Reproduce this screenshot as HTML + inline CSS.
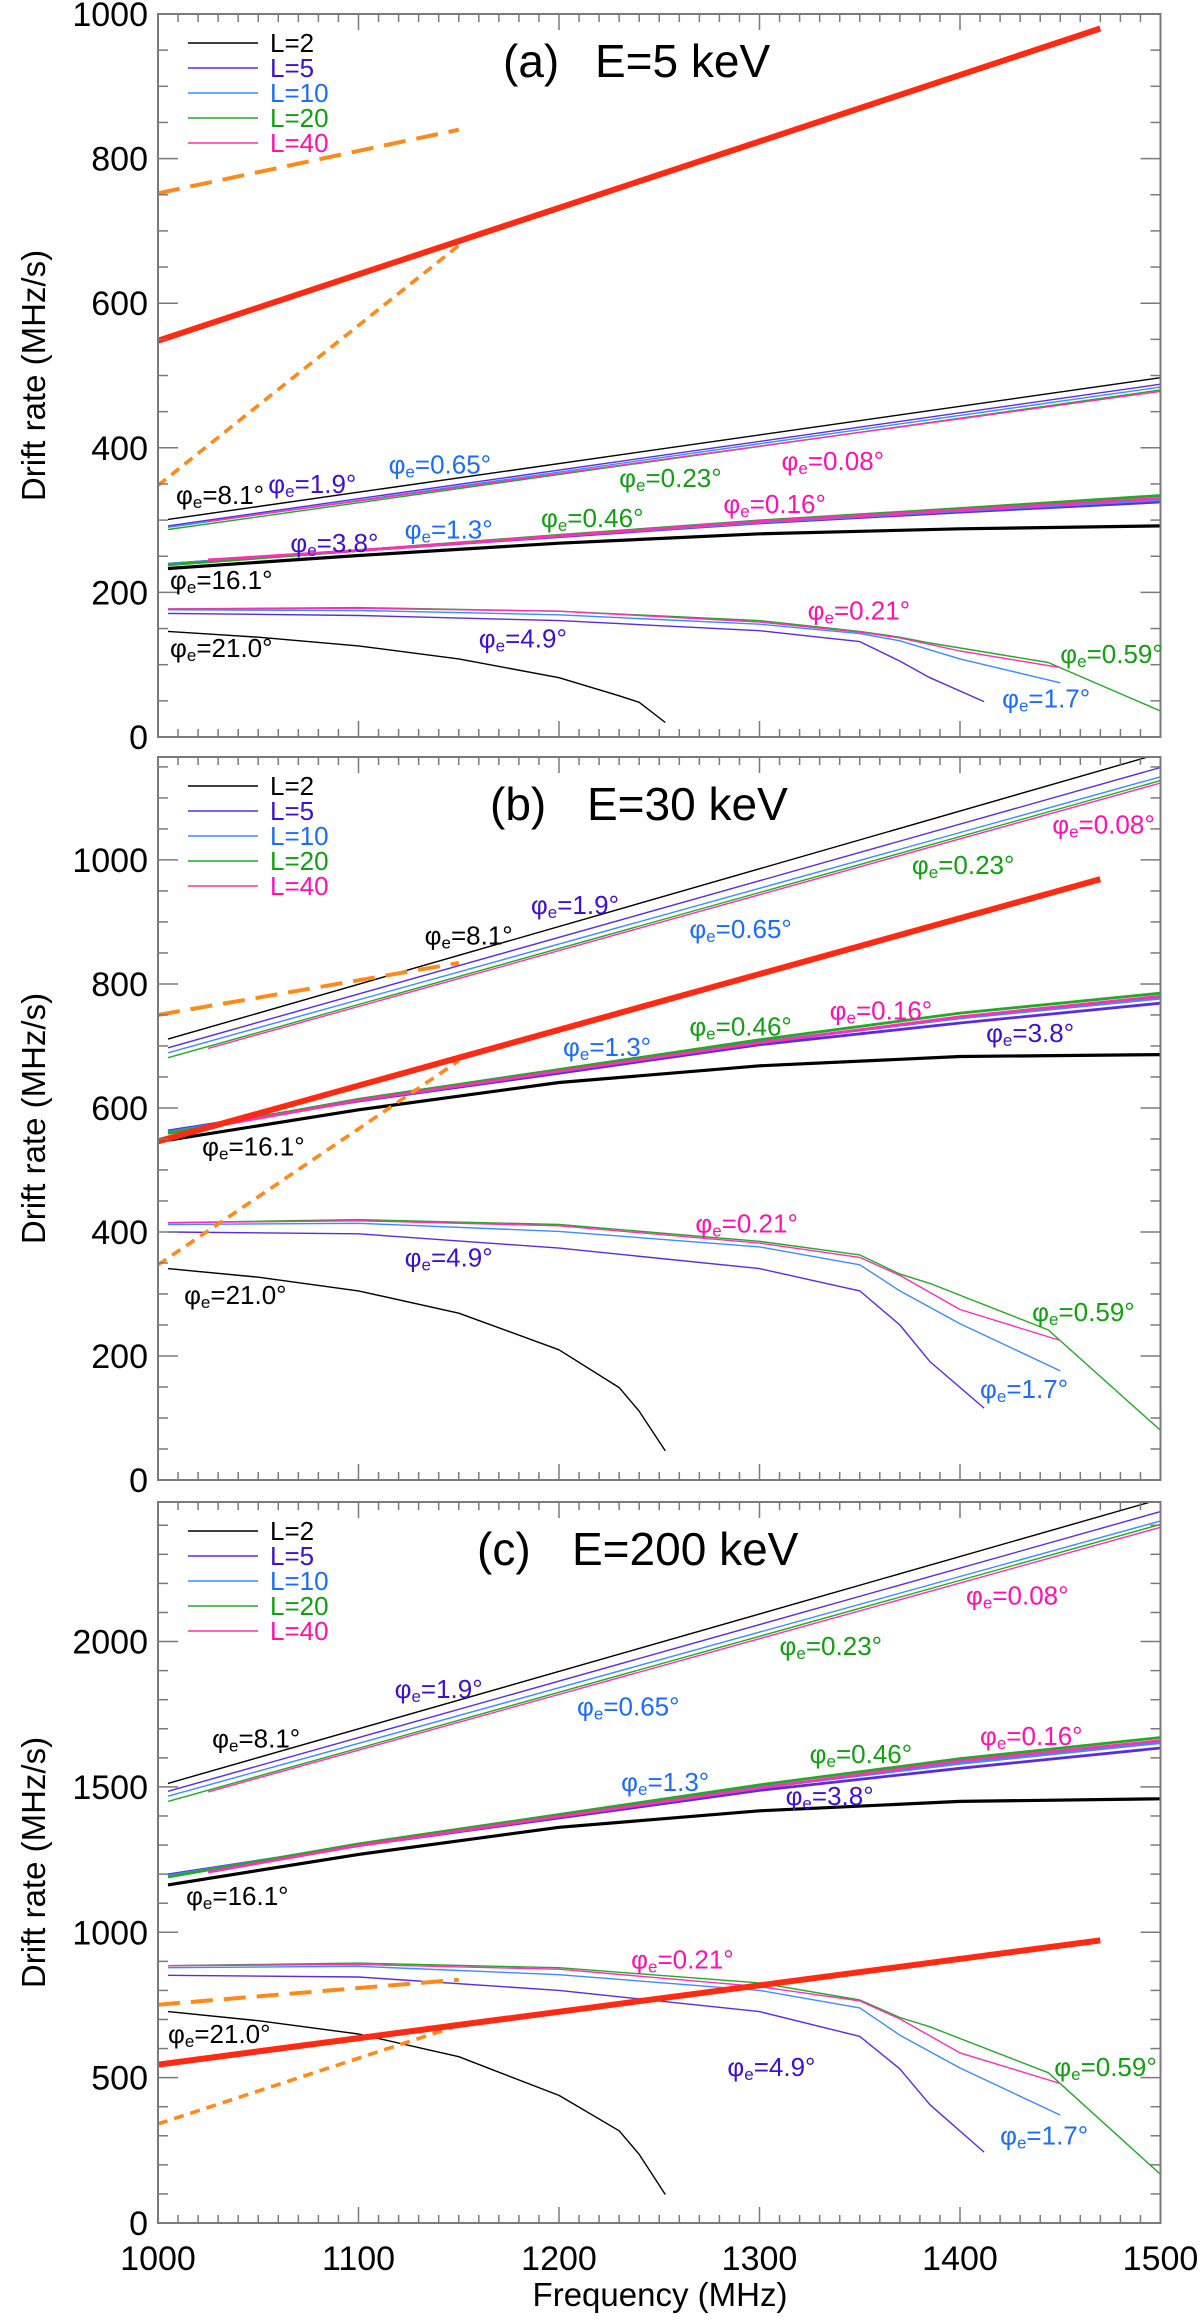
<!DOCTYPE html>
<html><head><meta charset="utf-8">
<style>
html,body{margin:0;padding:0;background:#fff;}
svg{display:block;font-family:"Liberation Sans",Arial,sans-serif;}
</style></head>
<body>
<svg id="chart" width="1200" height="2323" viewBox="0 0 1200 2323" xmlns="http://www.w3.org/2000/svg">
<defs>
<clipPath id="clipA"><rect x="158" y="14" width="1003" height="723"/></clipPath>
<clipPath id="clipB"><rect x="158" y="757" width="1003" height="723"/></clipPath>
<clipPath id="clipC"><rect x="158" y="1502" width="1003" height="721"/></clipPath>
</defs>
</svg>
<script>
// ---- shared frequency grids (MHz) ----
const topF = [1005, 1500];
const topF40 = [1025, 1500];
const midF = [1005, 1100, 1200, 1300, 1400, 1500];
const midF40 = [1025, 1100, 1200, 1300, 1400, 1500];
const botL2F = [1005, 1050, 1100, 1150, 1200, 1230, 1240, 1253];
const botL5F = [1005, 1100, 1200, 1300, 1350, 1370, 1385, 1412];
const botL10F = [1005, 1100, 1200, 1300, 1350, 1370, 1400, 1450];
const botL40F = [1005, 1100, 1200, 1300, 1350, 1370, 1400, 1450];
const botL20F = [1005, 1100, 1200, 1300, 1350, 1370, 1385, 1444, 1500];
const redF = [1000, 1470];
const orangeF = [1000, 1150];
const xTicks = [1000, 1100, 1200, 1300, 1400, 1500];

// ---- panel (a) E=5 keV ----
const aTopL2 = [301, 497], aTopL5 = [292, 488], aTopL10 = [290, 484], aTopL20 = [287, 480], aTopL40 = [298, 478];
const aMidL2 = [233, 251, 268, 281, 288, 292];
const aMidL5 = [239, 258, 277, 296, 311, 325];
const aMidL10 = [239, 258, 278, 297, 313, 328];
const aMidL20 = [238, 258, 279, 299, 316, 334];
const aMidL40 = [245, 258, 278, 298, 314, 330];
const aBotL2 = [146, 138, 126, 108, 82, 57, 48, 20];
const aBotL5 = [171, 168, 161, 147, 132, 105, 82, 49];
const aBotL10 = [176, 175, 169, 156, 143, 133, 108, 75];
const aBotL40 = [177, 178, 174, 159, 145, 137, 119, 96];
const aBotL20 = [177, 179, 174, 161, 146, 138, 130, 103, 36];
const aRed = [548, 980];
const aOrangeLong = [752, 840];
const aOrangeShort = [348, 680];
const aYTicks = [0, 200, 400, 600, 800, 1000];
const aLabels = [
 ["8.1", 0, 1009, 335], ["1.9", 1, 1055, 350], ["0.65", 2, 1115, 377], ["0.23", 3, 1230, 358], ["0.08", 4, 1311, 382],
 ["3.8", 1, 1066, 268], ["1.3", 2, 1123, 287], ["0.46", 3, 1191, 303], ["0.16", 4, 1282, 322],
 ["16.1", 0, 1006, 217], ["21.0", 0, 1006, 123], ["4.9", 1, 1160, 136], ["0.21", 4, 1324, 175],
 ["0.59", 3, 1450, 115], ["1.7", 2, 1421, 53]];

// ---- panel (b) E=30 keV ----
const bTopL2 = [711, 1172], bTopL5 = [697, 1149], bTopL10 = [689, 1134], bTopL20 = [681, 1128], bTopL40 = [696, 1124];
const bMidL2 = [548, 597, 641, 668, 683, 686];
const bMidL5 = [563, 611, 656, 702, 737, 769];
const bMidL10 = [561, 612, 659, 706, 745, 777];
const bMidL20 = [559, 614, 662, 710, 753, 785];
const bMidL40 = [569, 612, 659, 705, 747, 780];
const bBotL2 = [341, 327, 305, 269, 210, 149, 111, 47];
const bBotL5 = [400, 397, 374, 341, 305, 250, 191, 116];
const bBotL10 = [412, 414, 401, 376, 347, 305, 252, 176];
const bBotL40 = [415, 418, 410, 382, 359, 330, 275, 225];
const bBotL20 = [415, 420, 412, 385, 363, 332, 317, 242, 80];
const bRed = [546, 969];
const bOrangeLong = [750, 834];
const bOrangeShort = [347, 676];
const bYTicks = [0, 200, 400, 600, 800, 1000];
const bLabels = [
 ["8.1", 0, 1133, 878], ["1.9", 1, 1186, 927], ["0.65", 2, 1265, 889], ["0.23", 3, 1376, 992], ["0.08", 4, 1446, 1057],
 ["1.3", 2, 1202, 698], ["0.46", 3, 1265, 731], ["0.16", 4, 1335, 757], ["3.8", 1, 1413, 721],
 ["16.1", 0, 1022, 538], ["21.0", 0, 1013, 298], ["4.9", 1, 1123, 359], ["0.21", 4, 1268, 414],
 ["0.59", 3, 1436, 271], ["1.7", 2, 1410, 147]];

// ---- panel (c) E=200 keV ----
const cTopL2 = [1512, 2490], cTopL5 = [1485, 2447], cTopL10 = [1468, 2415], cTopL20 = [1450, 2403], cTopL40 = [1483, 2393];
const cMidL2 = [1163, 1268, 1361, 1418, 1450, 1459];
const cMidL5 = [1198, 1298, 1393, 1488, 1564, 1634];
const cMidL10 = [1194, 1301, 1399, 1498, 1581, 1652];
const cMidL20 = [1190, 1304, 1405, 1507, 1597, 1670];
const cMidL40 = [1207, 1298, 1398, 1496, 1589, 1659];
const cBotL2 = [727, 696, 650, 572, 439, 317, 236, 98];
const cBotL5 = [852, 846, 800, 727, 642, 530, 407, 244];
const cBotL10 = [878, 883, 854, 800, 740, 646, 533, 371];
const cBotL40 = [885, 889, 873, 813, 764, 702, 585, 480];
const cBotL20 = [885, 894, 878, 826, 767, 707, 675, 517, 167];
const cRed = [545, 972];
const cOrangeLong = [751, 837];
const cOrangeShort = [341, 680];
const cYTicks = [0, 500, 1000, 1500, 2000];
const cLabels = [
 ["8.1", 0, 1027, 1667], ["1.9", 1, 1118, 1837], ["0.65", 2, 1209, 1777], ["0.23", 3, 1310, 1984], ["0.08", 4, 1403, 2159],
 ["1.3", 2, 1231, 1517], ["0.46", 3, 1325, 1613], ["0.16", 4, 1410, 1675], ["3.8", 1, 1313, 1468],
 ["16.1", 0, 1014, 1125], ["21.0", 0, 1005, 650], ["4.9", 1, 1284, 537], ["0.21", 4, 1236, 907],
 ["0.59", 3, 1447, 537], ["1.7", 2, 1420, 301]];

const legendNames = ["L=2", "L=5", "L=10", "L=20", "L=40"];
const lineColors = ["#000000", "#5a2be0", "#3a8cff", "#22aa22", "#ff2eb8"];
const textColors = ["#000000", "#3c10d0", "#1a6cff", "#10a010", "#ff10b0"];

const NS = "http://www.w3.org/2000/svg";
const svg = document.getElementById("chart");
const X0 = 158, X1 = 1160.5;
function xScale(f) { return X0 + (f - 1000) / 500 * (X1 - X0); }
function mk(tag, attrs, parent) {
  const e = document.createElementNS(NS, tag);
  for (const k in attrs) e.setAttribute(k, attrs[k]);
  (parent || svg).appendChild(e);
  return e;
}
function poly(fs, vs, ys, g, stroke, w, dash, name) {
  const pts = fs.map((f, i) => xScale(f).toFixed(1) + "," + ys(vs[i]).toFixed(1)).join(" ");
  const p = mk("polyline", {points: pts, fill: "none", stroke: stroke, "stroke-width": w, "stroke-linejoin": "round"}, g);
  if (dash) p.setAttribute("stroke-dasharray", dash);
  
  
  return p;
}

function panel(id, top, bottom, ymax, minorStep, yTicks, d, labels, titleTag, titleE, titleX, eX, showX) {
  const ys = v => bottom - v / ymax * (bottom - top);
  const g = mk("g", {});
  
  
  const lines = mk("g", {"clip-path": "url(#clip" + id.toUpperCase() + ")"}, g);
  
  
  d.top.forEach((vs, i) => poly(i === 4 ? topF40 : topF, vs, ys, lines, lineColors[i], 1.4, null, 'upper-line-' + legendNames[i].toLowerCase().replace('=', '')));
  const botFs = [botL2F, botL5F, botL10F, botL20F, botL40F];
  d.bot.forEach((vs, i) => poly(botFs[i], vs, ys, lines, lineColors[i], 1.4, null, 'lower-curve-' + legendNames[i].toLowerCase().replace('=', '')));
  [1, 2, 3, 4, 0].forEach(i => poly(i === 4 ? midF40 : midF, d.mid[i], ys, lines, lineColors[i], i === 0 ? 3.2 : 2.8, null, 'middle-curve-' + legendNames[i].toLowerCase().replace('=', '')));
  poly(orangeF, d.ol, ys, lines, "#ff8a1a", 4, "22 11", 'orange-long-dash-line');
  poly(orangeF, d.os, ys, lines, "#ff8a1a", 3.6, "10 7", 'orange-short-dash-line');
  poly(redF, d.red, ys, lines, "#ff2a12", 6, null, 'red-thick-line');

  const fr = mk("rect", {x: X0, y: top, width: X1 - X0, height: bottom - top, fill: "none", stroke: "#7a7a7a", "stroke-width": 2}, g);
  
  
  for (let f = 1000; f <= 1500; f += 10) {
    const x = xScale(f), major = (f % 100 === 0), len = major ? 16 : 8;
    const t1 = mk("line", {x1: x, x2: x, y1: bottom, y2: bottom - len, stroke: "#7a7a7a", "stroke-width": 1.5}, g);
    
    
    const t2 = mk("line", {x1: x, x2: x, y1: top, y2: top + len, stroke: "#7a7a7a", "stroke-width": 1.5}, g);
    
    
  }
  for (let v = 0; v <= ymax; v += minorStep) {
    const y = ys(v), major = yTicks.indexOf(v) >= 0, len = major ? 20 : 10;
    const t1 = mk("line", {x1: X0, x2: X0 + len, y1: y, y2: y, stroke: "#7a7a7a", "stroke-width": 1.5}, g);
    
    
    const t2 = mk("line", {x1: X1, x2: X1 - len, y1: y, y2: y, stroke: "#7a7a7a", "stroke-width": 1.5}, g);
    
    
  }
  yTicks.forEach(v => {
    const t = mk("text", {x: 148, y: ys(v) + 12, "text-anchor": "end", "font-size": 34, fill: "#000"}, g);
    t.textContent = String(v);
    
    
  });
  if (showX) {
    xTicks.forEach(f => {
      const t = mk("text", {x: xScale(f), y: 2270, "text-anchor": "middle", "font-size": 34, fill: "#000"}, g);
      t.textContent = String(f);
      
      
    });
  }
  const yt = mk("text", {x: 0, y: 0, "text-anchor": "middle", "font-size": 33, fill: "#000", transform: "translate(45," + ((top + bottom) / 2) + ") rotate(-90)"}, g);
  yt.textContent = "Drift rate (MHz/s)";
  
  
  legendNames.forEach((n, i) => {
    const y = top + 29 + 25 * i;
    const l = mk("line", {x1: 188, x2: 258, y1: y, y2: y, stroke: lineColors[i], "stroke-width": 1.6}, g);
    
    
    const t = mk("text", {x: 270, y: y + 9, "font-size": 26, fill: textColors[i]}, g);
    t.textContent = n;
    
    
  });
  const t1 = mk("text", {x: titleX, y: top + 63, "font-size": 46, fill: "#000"}, g);
  t1.textContent = titleTag;
  
  
  const t2 = mk("text", {x: eX, y: top + 63, "font-size": 46, fill: "#000"}, g);
  t2.textContent = titleE;
  
  
  labels.forEach(lb => {
    const t = mk("text", {x: xScale(lb[2]), y: ys(lb[3]) + 9, "font-size": 26, fill: textColors[lb[1]]}, g);
    
    
    t.appendChild(document.createTextNode("φ"));
    const s = mk("tspan", {"font-size": 17, dy: 4}, t);
    s.textContent = "e";
    const s2 = mk("tspan", {dy: -4}, t);
    s2.textContent = "=" + lb[0] + "°";
  });
}

panel("a", 14, 737, 1000, 50, aYTicks,
  {top: [aTopL2, aTopL5, aTopL10, aTopL20, aTopL40], mid: [aMidL2, aMidL5, aMidL10, aMidL20, aMidL40],
   bot: [aBotL2, aBotL5, aBotL10, aBotL20, aBotL40], red: aRed, ol: aOrangeLong, os: aOrangeShort},
  aLabels, "(a)", "E=5 keV", 503, 595, false);
panel("b", 757, 1480, 1166, 50, bYTicks,
  {top: [bTopL2, bTopL5, bTopL10, bTopL20, bTopL40], mid: [bMidL2, bMidL5, bMidL10, bMidL20, bMidL40],
   bot: [bBotL2, bBotL5, bBotL10, bBotL20, bBotL40], red: bRed, ol: bOrangeLong, os: bOrangeShort},
  bLabels, "(b)", "E=30 keV", 490, 587, false);
panel("c", 1502, 2223, 2480, 100, cYTicks,
  {top: [cTopL2, cTopL5, cTopL10, cTopL20, cTopL40], mid: [cMidL2, cMidL5, cMidL10, cMidL20, cMidL40],
   bot: [cBotL2, cBotL5, cBotL10, cBotL20, cBotL40], red: cRed, ol: cOrangeLong, os: cOrangeShort},
  cLabels, "(c)", "E=200 keV", 477, 572, true);

const xt = mk("text", {x: 660, y: 2306, "text-anchor": "middle", "font-size": 33, fill: "#000"});
xt.textContent = "Frequency (MHz)";


</script>
</body></html>
